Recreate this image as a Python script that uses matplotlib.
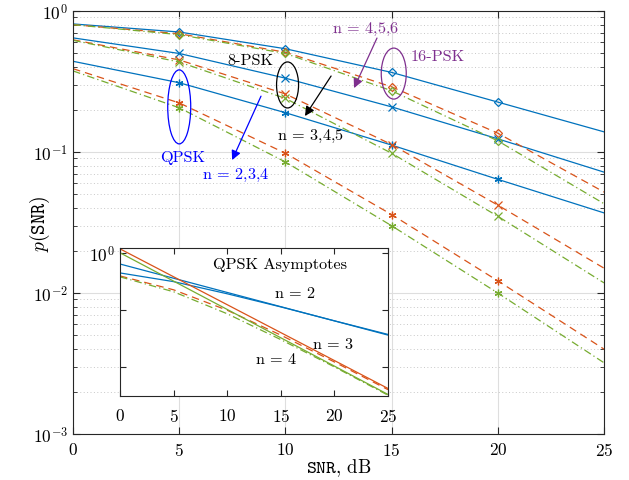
import numpy as np
import matplotlib
matplotlib.use('Agg')
import matplotlib.pyplot as plt
from matplotlib.patches import Ellipse
from matplotlib.ticker import LogLocator, FuncFormatter, NullFormatter

plt.rcParams['font.family'] = 'serif'
plt.rcParams['font.serif'] = ['cmr10']
plt.rcParams['mathtext.fontset'] = 'cm'
plt.rcParams['axes.formatter.use_mathtext'] = True
plt.rcParams['font.size'] = 11.7

# SNR grid (dB)
snr = [0, 5, 10, 15, 20, 25]

# QPSK, n = 2,3,4
qpsk_n2 = [0.44, 0.31, 0.19, 0.112, 0.064, 0.037]
qpsk_n3 = [0.39, 0.223, 0.098, 0.036, 0.0122, 0.0040]
qpsk_n4 = [0.376, 0.206, 0.085, 0.030, 0.0100, 0.0032]
# 8-PSK, n = 3,4,5
psk8_n3 = [0.645, 0.50, 0.334, 0.209, 0.124, 0.072]
psk8_n4 = [0.625, 0.45, 0.258, 0.113, 0.042, 0.015]
psk8_n5 = [0.62, 0.435, 0.24, 0.098, 0.035, 0.0118]
# 16-PSK, n = 4,5,6
psk16_n4 = [0.81, 0.71, 0.54, 0.367, 0.226, 0.139]
psk16_n5 = [0.80, 0.69, 0.51, 0.29, 0.136, 0.052]
psk16_n6 = [0.80, 0.68, 0.50, 0.272, 0.12, 0.043]

# QPSK asymptotes (inset), end points at 0 and 25 dB
asym_snr = [0, 25]
asym_n2 = [0.63, 0.036]
asym_n3 = [1.16, 0.0042]
asym_n4 = [0.99, 0.0033]

blue = '#0072BD'
orange = '#D95319'
green = '#77AC30'
purple = '#7E2F8E'

dash = (6, 4)
dashdot = (6, 2.5, 1, 2.5)

def logfmt(v, pos):
    return r'$10^{%d}$' % int(round(np.log10(v)))

fig = plt.figure(figsize=(6.29, 4.81), dpi=100)
ax = fig.add_axes([0.1161, 0.0956, 0.8442, 0.8794])

groups = [
    ((6, 2, 0), [qpsk_n2, qpsk_n3, qpsk_n4]),
    ('x', [psk8_n3, psk8_n4, psk8_n5]),
    ('D', [psk16_n4, psk16_n5, psk16_n6]),
]
for mk, series in groups:
    ms = 4.5 if mk == 'D' else 5.5
    for vals, c, ds in zip(series, [blue, orange, green], [None, dash, dashdot]):
        ln, = ax.plot(snr, vals, color=c, lw=0.9, marker=mk, ms=ms, mfc='none',
                      mew=0.9, markevery=[1, 2, 3, 4])
        if ds is not None:
            ln.set_dashes(ds)

ax.set_yscale('log')
ax.set_xlim(0, 25)
ax.set_ylim(1e-3, 1)
ax.set_xticks([0, 5, 10, 15, 20, 25])
ax.yaxis.set_major_locator(LogLocator(base=10, numticks=10))
ax.yaxis.set_minor_locator(LogLocator(base=10, subs=np.arange(2, 10), numticks=20))
ax.yaxis.set_major_formatter(FuncFormatter(logfmt))
ax.yaxis.set_minor_formatter(NullFormatter())
ax.tick_params(which='both', direction='in', top=True, right=True, color='#262626',
               labelsize=12.5)
ax.tick_params(which='major', length=5)
ax.tick_params(which='minor', length=3)
ax.tick_params(axis='x', pad=5)
ax.grid(which='major', color='#dedede', lw=0.8, ls='-')
ax.grid(which='minor', axis='y', color='#c8c8c8', lw=0.7, ls=(0, (1, 2.5)))
ax.set_axisbelow(True)
for s in ax.spines.values():
    s.set_color('#262626')
    s.set_linewidth(0.8)
ax.set_xlabel(r'$\mathtt{SNR}$, dB', fontsize=13.5, labelpad=-1)
ax.set_ylabel(r'$p(\mathtt{SNR})$', fontsize=14, labelpad=-14)

# annotations
def ring(x, y, w, h, c):
    cx, cy = ax.transAxes.inverted().transform(ax.transData.transform((x, y)))
    ax.add_patch(Ellipse((cx, cy), w / 531, h / 423, transform=ax.transAxes,
                         fill=False, ec=c, lw=0.9, zorder=5))

ring(5, 0.209, 23, 74, 'blue')
ring(10.1, 0.299, 22, 46, 'black')
ring(15.1, 0.36, 25, 51, purple)

arr = dict(arrowstyle='-|>', lw=0.9, mutation_scale=14, shrinkA=0, shrinkB=0)
ax.annotate('', xy=(7.49, 0.0877), xytext=(8.85, 0.249),
            arrowprops=dict(arr, color='blue'))
ax.annotate('', xy=(10.92, 0.180), xytext=(12.15, 0.346),
            arrowprops=dict(arr, color='black'))
ax.annotate('', xy=(13.23, 0.284), xytext=(14.31, 0.643),
            arrowprops=dict(arr, color=purple))

ax.text(5.18, 0.092, 'QPSK', color='blue', ha='center', va='center')
ax.text(7.67, 0.0698, r'$\mathrm{n}$ = 2,3,4', color='blue', ha='center', va='center')
ax.text(8.33, 0.449, '8-PSK', color='black', ha='center', va='center')
ax.text(11.16, 0.132, r'$\mathrm{n}$ = 3,4,5', color='black', ha='center', va='center')
ax.text(17.18, 0.48, '16-PSK', color=purple, ha='center', va='center')
ax.text(13.75, 0.758, r'$\mathrm{n}$ = 4,5,6', color=purple, ha='center', va='center')

# inset
axi = fig.add_axes([0.1908, 0.1746, 0.4261, 0.3077])
axi.set_facecolor('white')
axi.plot(snr, qpsk_n2, color=blue, lw=0.9)
axi.plot(asym_snr, asym_n2, color=blue, lw=0.9)
l3, = axi.plot(snr, qpsk_n3, color=orange, lw=0.9)
l3.set_dashes(dash)
axi.plot(asym_snr, asym_n3, color=orange, lw=0.9)
l4, = axi.plot(snr, qpsk_n4, color=green, lw=0.9)
l4.set_dashes(dashdot)
axi.plot(asym_snr, asym_n4, color=green, lw=0.9)
axi.set_yscale('log')
axi.set_xlim(0, 25)
axi.set_ylim(0.0031, 1.2)
axi.set_xticks([0, 5, 10, 15, 20, 25])
axi.set_yticks([1e-2, 1e-1, 1])
axi.yaxis.set_major_formatter(FuncFormatter(lambda v, p: r'$10^{0}$' if v == 1 else ''))
axi.yaxis.set_minor_locator(plt.NullLocator())
axi.tick_params(which='both', direction='in', top=True, right=True, color='#262626',
                labelsize=12.5, length=4)
axi.tick_params(axis='x', pad=8)
for s in axi.spines.values():
    s.set_color('#262626')
    s.set_linewidth(0.8)
axi.text(14.88, 0.634, 'QPSK Asymptotes', ha='center', va='center')
axi.text(16.32, 0.204, r'$\mathrm{n}$ = 2', ha='center', va='center')
axi.text(19.87, 0.026, r'$\mathrm{n}$ = 3', ha='center', va='center')
axi.text(14.55, 0.0142, r'$\mathrm{n}$ = 4', ha='center', va='center')

fig.savefig('out.png', dpi=100)
